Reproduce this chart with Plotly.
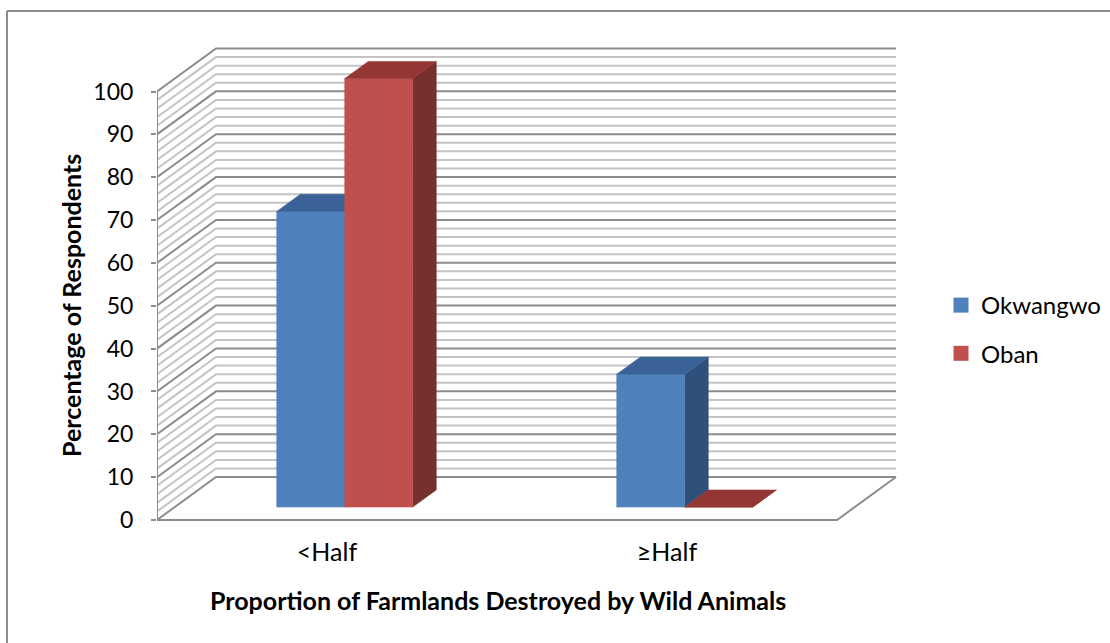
import plotly.graph_objects as go

# ---- data ----
categories = ["<Half", "≥Half"]
series_names = ["Okwangwo", "Oban"]
okwangwo = [69, 31]
oban = [100, 0]
y_ticks = list(range(0, 101, 10))
minor_step = 2

# ---- styling / pseudo-3D geometry ----
front_colors = ["#4F81BD", "#C0504D"]
top_colors = ["#3B6296", "#943634"]
side_colors = ["#2F5078", "#76302E"]
DX = 59 / 340.0      # depth offset in category units
DY = 10.03           # depth offset in value units
D0, D1 = 0.3, 0.7    # bar depth span
BAR_W = 0.2
FONT = "Lato"

values = [okwangwo, oban]
ncat = len(categories)
ymax = y_ticks[-1]


def proj(x, y, d):
    return x + d * DX, y + d * DY


fig = go.Figure()

# gridlines (back wall + side wall)
minor_x, minor_y, major_x, major_y = [], [], [], []
v = 0
while v <= ymax:
    pts = [proj(0, v, 0), proj(0, v, 1), proj(ncat, v, 1)]
    tx = [p[0] for p in pts] + [None]
    ty = [p[1] for p in pts] + [None]
    if v % 10 == 0:
        major_x += tx
        major_y += ty
    else:
        minor_x += tx
        minor_y += ty
    v += minor_step

fig.add_trace(go.Scatter(x=minor_x, y=minor_y, mode="lines",
                         line=dict(color="#C4C4C4", width=2),
                         showlegend=False, hoverinfo="skip"))
fig.add_trace(go.Scatter(x=major_x, y=major_y, mode="lines",
                         line=dict(color="#8C8C8C", width=2),
                         showlegend=False, hoverinfo="skip"))

# floor front/right edges and front value axis
fl = [proj(0, 0, 0), proj(ncat, 0, 0), proj(ncat, 0, 1)]
fig.add_trace(go.Scatter(x=[p[0] for p in fl], y=[p[1] for p in fl], mode="lines",
                         line=dict(color="#8C8C8C", width=2),
                         showlegend=False, hoverinfo="skip"))
fig.add_trace(go.Scatter(x=[0, 0], y=[0, ymax], mode="lines",
                         line=dict(color="#8C8C8C", width=2),
                         showlegend=False, hoverinfo="skip"))


def face(points, color):
    xs = [p[0] for p in points] + [points[0][0]]
    ys = [p[1] for p in points] + [points[0][1]]
    fig.add_trace(go.Scatter(x=xs, y=ys, mode="lines", fill="toself",
                             fillcolor=color, line=dict(color=color, width=0.5),
                             showlegend=False, hoverinfo="skip"))


# bars, drawn left to right
for i in range(ncat):
    c = i + 0.5
    for j, vals in enumerate(values):
        val = vals[i]
        x0 = c - BAR_W + BAR_W * j
        x1 = x0 + BAR_W
        front = [proj(x0, 0, D0), proj(x1, 0, D0), proj(x1, val, D0), proj(x0, val, D0)]
        top = [proj(x0, val, D0), proj(x1, val, D0), proj(x1, val, D1), proj(x0, val, D1)]
        side = [proj(x1, 0, D0), proj(x1, 0, D1), proj(x1, val, D1), proj(x1, val, D0)]
        face(side, side_colors[j])
        face(front, front_colors[j])
        face(top, top_colors[j])

# legend entries
for j, name in enumerate(series_names):
    fig.add_trace(go.Scatter(x=[None], y=[None], mode="markers", name=name,
                             legendgroup=name,
                             marker=dict(symbol="square", size=15, color=front_colors[j])))

L, R, T, B = 157, 900, 40, 532
PXX = 340.0
PXY = 4.285
x_range = [0, (R - L) / PXX]
y_range = [-(B - 520) / PXY, (520 - T) / PXY]


def paper_x(px):
    return (px - L) / (R - L)


def paper_y(py):
    return (B - py) / (B - T)


fig.update_layout(
    width=1110, height=643,
    margin=dict(l=L, r=1110 - R, t=T, b=643 - B, autoexpand=False),
    paper_bgcolor="white", plot_bgcolor="white",
    font=dict(family=FONT, size=24, color="black"),
    xaxis=dict(range=x_range, showgrid=False, zeroline=False, showline=False,
               tickvals=[i + 0.5 for i in range(ncat)], ticktext=categories,
               ticks="", ticklabelstandoff=3, fixedrange=True, automargin=False,
               tickfont=dict(size=25, family=FONT)),
    yaxis=dict(range=y_range, showgrid=False, zeroline=False, showline=False,
               tickvals=y_ticks, ticks="outside", ticklen=5, tickwidth=2,
               tickcolor="#8C8C8C", ticklabelstandoff=13, fixedrange=True,
               automargin=False, tickfont=dict(size=23, family=FONT)),
    legend=dict(x=paper_x(941), y=paper_y(283), xanchor="left", yanchor="top",
                tracegroupgap=14, font=dict(size=24, family=FONT),
                bgcolor="rgba(0,0,0,0)"),
    annotations=[
        dict(text="<b>Proportion of Farmlands Destroyed by Wild Animals</b>",
             xref="paper", yref="paper", x=paper_x(498), y=paper_y(600),
             xanchor="center", yanchor="middle", showarrow=False,
             font=dict(size=25, family=FONT)),
        dict(text="<b>Percentage of Respondents</b>", textangle=-90,
             xref="paper", yref="paper", x=paper_x(71), y=paper_y(306),
             xanchor="center", yanchor="middle", showarrow=False,
             font=dict(size=25, family=FONT)),
    ],
    shapes=[
        dict(type="line", xref="paper", yref="paper",
             x0=paper_x(7), y0=paper_y(11), x1=paper_x(1115), y1=paper_y(11),
             line=dict(color="#8C8C8C", width=2)),
        dict(type="line", xref="paper", yref="paper",
             x0=paper_x(7), y0=paper_y(11), x1=paper_x(7), y1=paper_y(650),
             line=dict(color="#8C8C8C", width=2)),
    ],
)

fig.write_html("out.html")
